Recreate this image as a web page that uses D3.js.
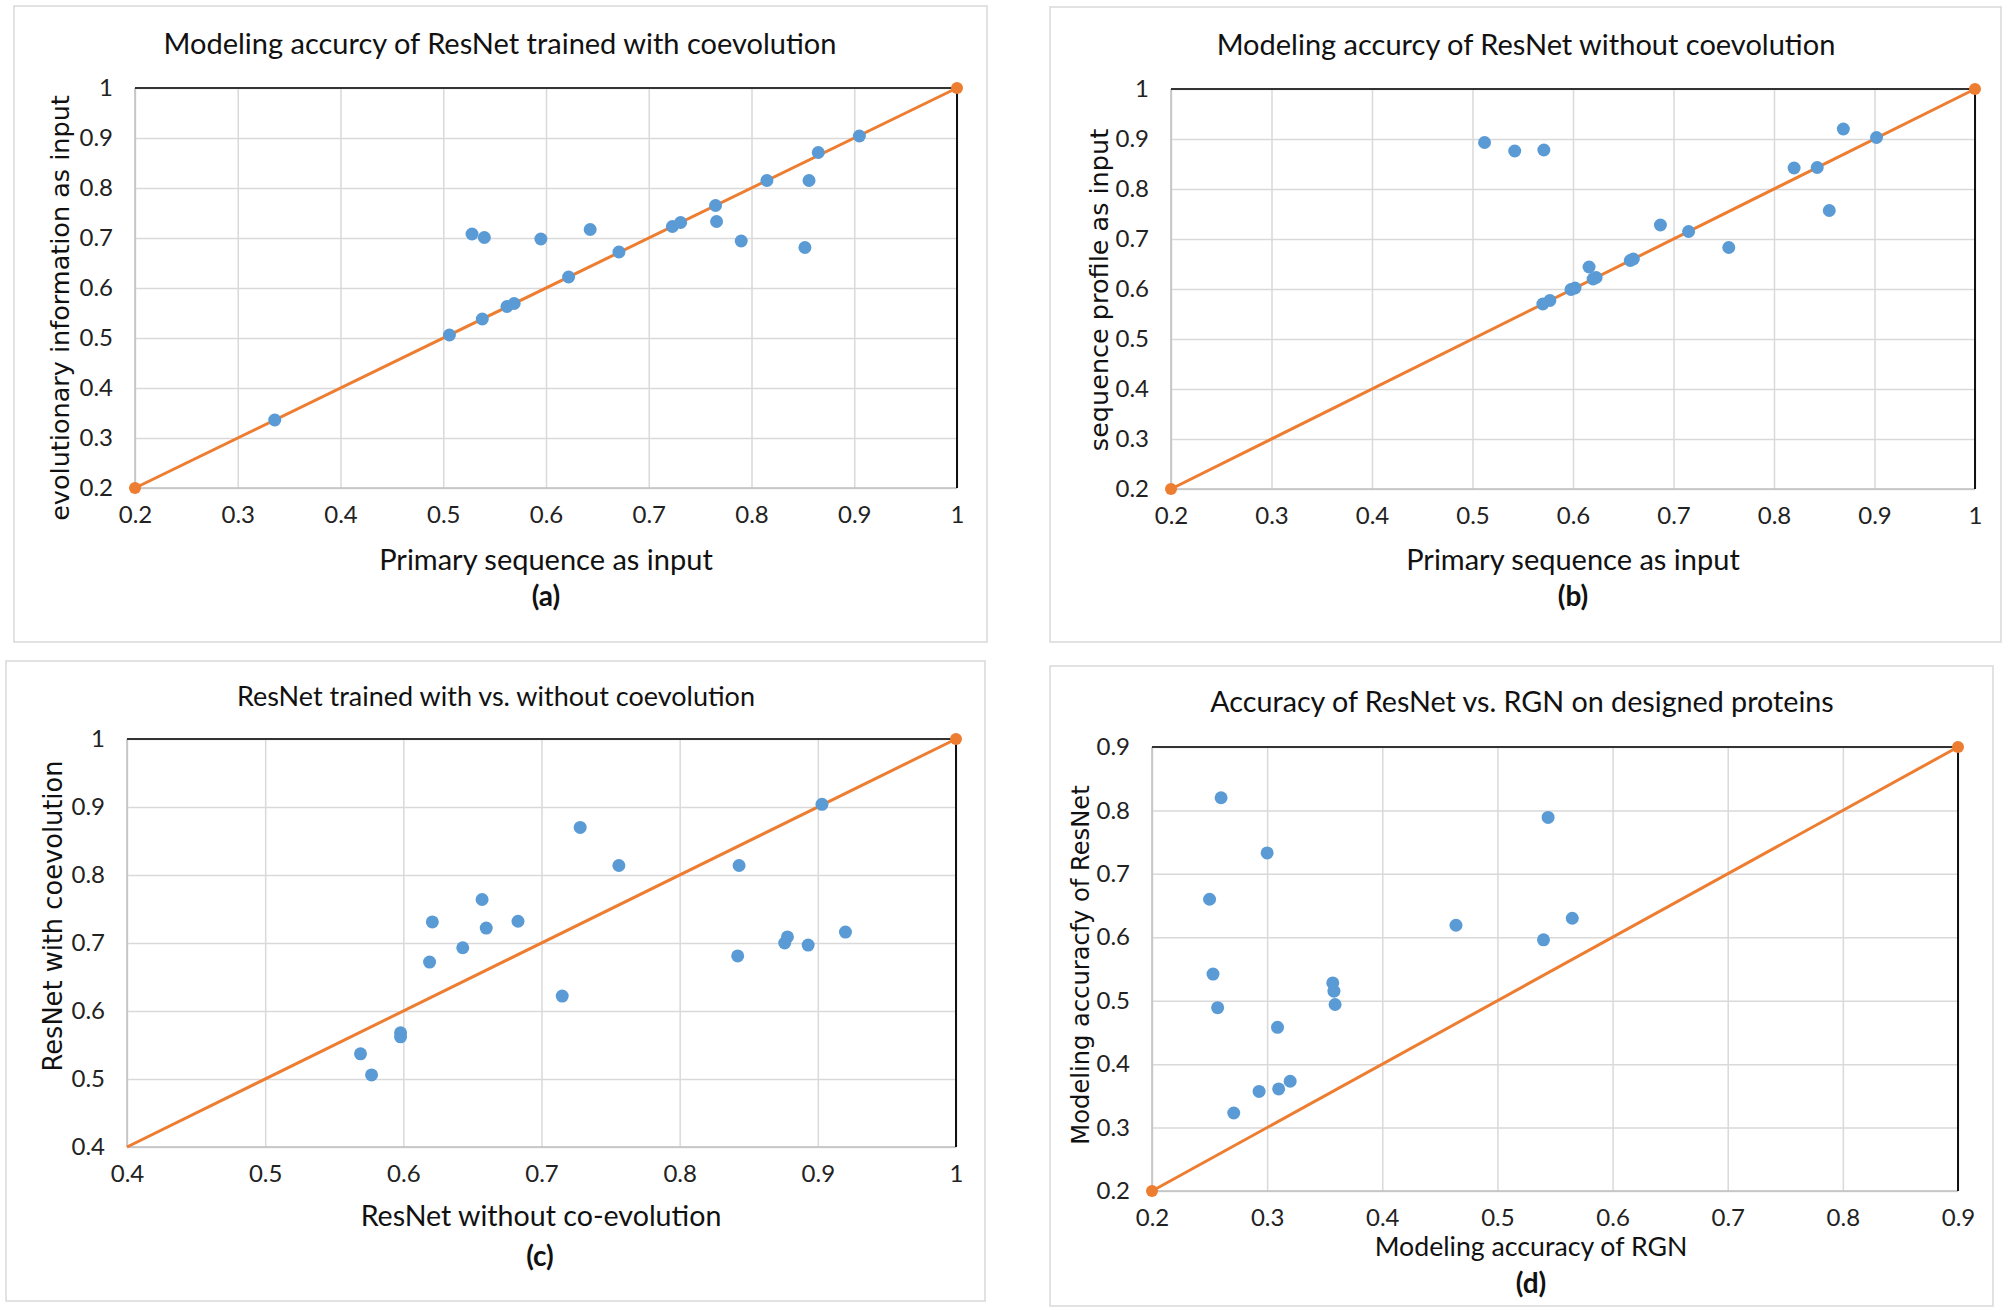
<!DOCTYPE html>
<html>
<head>
<meta charset="utf-8">
<script src="https://cdn.jsdelivr.net/npm/d3@7/dist/d3.min.js"></script>
<style>
  html, body { margin: 0; padding: 0; background: #fff; }
  svg { display: block; }
</style>
</head>
<body>
<div id="chart"></div>
<script>
// panel (a): primary sequence vs evolutionary information
const aX = [0.336, 0.506, 0.538, 0.562, 0.569, 0.528, 0.540, 0.595, 0.643, 0.622, 0.671,
  0.723, 0.731, 0.765, 0.766, 0.790, 0.815, 0.856, 0.852, 0.865, 0.905];
const aY = [0.336, 0.506, 0.538, 0.563, 0.569, 0.708, 0.701, 0.698, 0.717, 0.622, 0.672,
  0.723, 0.731, 0.765, 0.733, 0.694, 0.815, 0.815, 0.681, 0.871, 0.904];

// panel (b): primary sequence vs sequence profile
const bX = [0.512, 0.542, 0.571, 0.869, 0.902, 0.820, 0.843, 0.855, 0.687, 0.715, 0.755,
  0.616, 0.620, 0.623, 0.657, 0.660, 0.598, 0.602, 0.570, 0.577];
const bY = [0.893, 0.876, 0.878, 0.920, 0.903, 0.842, 0.843, 0.757, 0.728, 0.715, 0.683,
  0.644, 0.620, 0.623, 0.657, 0.660, 0.599, 0.602, 0.570, 0.577];

// panel (c): without vs with coevolution
const cX = [0.569, 0.577, 0.598, 0.598, 0.619, 0.621, 0.643, 0.657, 0.660, 0.683, 0.715,
  0.728, 0.756, 0.843, 0.842, 0.876, 0.878, 0.893, 0.920, 0.903];
const cY = [0.537, 0.506, 0.568, 0.562, 0.672, 0.731, 0.693, 0.764, 0.722, 0.732, 0.622,
  0.870, 0.814, 0.814, 0.681, 0.700, 0.709, 0.697, 0.716, 0.904];

// panel (d): RGN vs ResNet on designed proteins
const dX = [0.260, 0.300, 0.250, 0.253, 0.257, 0.271, 0.293, 0.309, 0.310, 0.320, 0.357,
  0.358, 0.359, 0.464, 0.540, 0.544, 0.565];
const dY = [0.820, 0.733, 0.660, 0.542, 0.489, 0.323, 0.357, 0.458, 0.361, 0.373, 0.528,
  0.515, 0.494, 0.619, 0.596, 0.789, 0.630];

// y = x reference lines (end points)
const diagA = [0.2, 1];
const diagB = [0.2, 1];
const diagC = [0.4, 1];
const diagD = [0.2, 0.9];

// tick values
const ticksA = [0.2, 0.3, 0.4, 0.5, 0.6, 0.7, 0.8, 0.9, 1];
const ticksC = [0.4, 0.5, 0.6, 0.7, 0.8, 0.9, 1];
const ticksD = [0.2, 0.3, 0.4, 0.5, 0.6, 0.7, 0.8, 0.9];

const blue = '#5b9bd5';
const orange = '#ed7d31';
const narrowFont = 'Lato, "Noto Sans", sans-serif';
const wideFont = '"DejaVu Sans", Verdana, sans-serif';

const svg = d3.select('#chart').append('svg')
  .attr('width', 2010)
  .attr('height', 1310);

const panels = [
  {
    box: [14, 6, 987, 642], plot: [135, 88, 957, 488],
    xs: aX, ys: aY, diag: diagA, diagStartDot: true, ticks: ticksA,
    title: 'Modeling accurcy of ResNet trained with coevolution', titleX: 500, titleY: 42, titleSize: 29,
    xTitle: 'Primary sequence as input', xTitleX: 546, xTitleY: 558, xTitleSize: 29,
    yTitle: 'evolutionary information as input', yTitleX: 60, yTitleY: 308, yTitleSize: 25.5,
    tag: '(a)', tagX: 546, tagY: 595
  },
  {
    box: [1050, 7, 2001, 642], plot: [1171, 89, 1975, 489],
    xs: bX, ys: bY, diag: diagB, diagStartDot: true, ticks: ticksA,
    title: 'Modeling accurcy of ResNet without coevolution', titleX: 1526, titleY: 43, titleSize: 29,
    xTitle: 'Primary sequence as input', xTitleX: 1573, xTitleY: 558, xTitleSize: 29,
    yTitle: 'sequence profile as input', yTitleX: 1099, yTitleY: 290, yTitleSize: 25.5,
    tag: '(b)', tagX: 1573, tagY: 595
  },
  {
    box: [6, 661, 985, 1301], plot: [127, 739, 956, 1147],
    xs: cX, ys: cY, diag: diagC, diagStartDot: false, ticks: ticksC,
    title: 'ResNet trained with vs. without coevolution', titleX: 496, titleY: 695, titleSize: 27,
    xTitle: 'ResNet without co-evolution', xTitleX: 541, xTitleY: 1215, xTitleSize: 28.6,
    yTitle: 'ResNet with coevolution', yTitleX: 53, yTitleY: 916, yTitleSize: 25.7,
    tag: '(c)', tagX: 540, tagY: 1255
  },
  {
    box: [1050, 666, 1993, 1306], plot: [1152, 747, 1958, 1191],
    xs: dX, ys: dY, diag: diagD, diagStartDot: true, ticks: ticksD,
    title: 'Accuracy of ResNet vs. RGN on designed proteins', titleX: 1522, titleY: 701, titleSize: 28.7,
    xTitle: 'Modeling accuracy of RGN', xTitleX: 1531, xTitleY: 1246, xTitleSize: 26.7,
    yTitle: 'Modeling accuracfy of ResNet', yTitleX: 1081, yTitleY: 965, yTitleSize: 24.2,
    tag: '(d)', tagX: 1531, tagY: 1282
  }
];

panels.forEach(function (p) {
  const [bx0, by0, bx1, by1] = p.box;
  const [px0, py0, px1, py1] = p.plot;
  const lo = p.ticks[0];
  const hi = p.ticks[p.ticks.length - 1];

  // outer frame
  svg.append('rect')
    .attr('x', bx0).attr('y', by0)
    .attr('width', bx1 - bx0).attr('height', by1 - by0)
    .attr('fill', '#fff')
    .attr('stroke', '#d9d9d9')
    .attr('stroke-width', 1.5);

  const x = d3.scaleLinear().domain([lo, hi]).range([px0, px1]);
  const y = d3.scaleLinear().domain([lo, hi]).range([py1, py0]);
  const fmt = function (v) { return String(+v.toFixed(1)); };

  const g = svg.append('g');

  // gridlines
  g.append('g')
    .attr('transform', `translate(0,${py1})`)
    .call(d3.axisBottom(x).tickValues(p.ticks).tickSize(-(py1 - py0)).tickFormat(''))
    .call(s => s.select('.domain').remove())
    .call(s => s.selectAll('line').attr('stroke', '#d9d9d9').attr('stroke-width', 1.5));
  g.append('g')
    .attr('transform', `translate(${px0},0)`)
    .call(d3.axisLeft(y).tickValues(p.ticks).tickSize(-(px1 - px0)).tickFormat(''))
    .call(s => s.select('.domain').remove())
    .call(s => s.selectAll('line').attr('stroke', '#d9d9d9').attr('stroke-width', 1.5));

  // left / bottom axis lines (gray), top / right (dark)
  g.append('line').attr('x1', px0).attr('x2', px0).attr('y1', py0).attr('y2', py1)
    .attr('stroke', '#bfbfbf').attr('stroke-width', 1.5);
  g.append('line').attr('x1', px0).attr('x2', px1).attr('y1', py1).attr('y2', py1)
    .attr('stroke', '#bfbfbf').attr('stroke-width', 1.5);
  g.append('line').attr('x1', px0).attr('x2', px1).attr('y1', py0).attr('y2', py0)
    .attr('stroke', '#333').attr('stroke-width', 2);
  g.append('line').attr('x1', px1).attr('x2', px1).attr('y1', py0).attr('y2', py1)
    .attr('stroke', '#111').attr('stroke-width', 2);

  // tick labels
  g.append('g')
    .attr('transform', `translate(0,${py1})`)
    .call(d3.axisBottom(x).tickValues(p.ticks).tickSize(0).tickPadding(18).tickFormat(fmt))
    .call(s => s.select('.domain').remove())
    .call(s => s.selectAll('text').attr('font-family', narrowFont).attr('font-size', 24).attr('fill', '#222'));
  g.append('g')
    .attr('transform', `translate(${px0},0)`)
    .call(d3.axisLeft(y).tickValues(p.ticks).tickSize(0).tickPadding(22).tickFormat(fmt))
    .call(s => s.select('.domain').remove())
    .call(s => s.selectAll('text').attr('font-family', narrowFont).attr('font-size', 24).attr('fill', '#222'));

  // diagonal reference line
  const line = d3.line().x(d => x(d)).y(d => y(d));
  g.append('path')
    .datum(p.diag)
    .attr('d', line)
    .attr('fill', 'none')
    .attr('stroke', orange)
    .attr('stroke-width', 3);
  g.selectAll('.diag-dot')
    .data(p.diagStartDot ? p.diag : p.diag.slice(1))
    .enter()
    .append('circle')
    .attr('cx', d => x(d))
    .attr('cy', d => y(d))
    .attr('r', 6)
    .attr('fill', orange);

  // scatter points
  g.selectAll('.pt')
    .data(p.xs.map((v, i) => [v, p.ys[i]]))
    .enter()
    .append('circle')
    .attr('cx', d => x(d[0]))
    .attr('cy', d => y(d[1]))
    .attr('r', 6.5)
    .attr('fill', blue);

  // texts
  svg.append('text')
    .attr('x', p.titleX).attr('y', p.titleY)
    .attr('text-anchor', 'middle').attr('dominant-baseline', 'central')
    .attr('font-family', narrowFont).attr('font-size', p.titleSize).attr('fill', '#111')
    .text(p.title);
  svg.append('text')
    .attr('x', p.xTitleX).attr('y', p.xTitleY)
    .attr('text-anchor', 'middle').attr('dominant-baseline', 'central')
    .attr('font-family', narrowFont).attr('font-size', p.xTitleSize).attr('fill', '#111')
    .text(p.xTitle);
  svg.append('text')
    .attr('x', p.tagX).attr('y', p.tagY)
    .attr('text-anchor', 'middle').attr('dominant-baseline', 'central')
    .attr('font-family', narrowFont).attr('font-size', 28).attr('font-weight', 'bold').attr('fill', '#111')
    .text(p.tag);
  svg.append('text')
    .attr('transform', `translate(${p.yTitleX},${p.yTitleY}) rotate(-90)`)
    .attr('text-anchor', 'middle').attr('dominant-baseline', 'central')
    .attr('font-family', wideFont).attr('font-size', p.yTitleSize).attr('fill', '#111')
    .text(p.yTitle);
});
</script>
</body>
</html>
